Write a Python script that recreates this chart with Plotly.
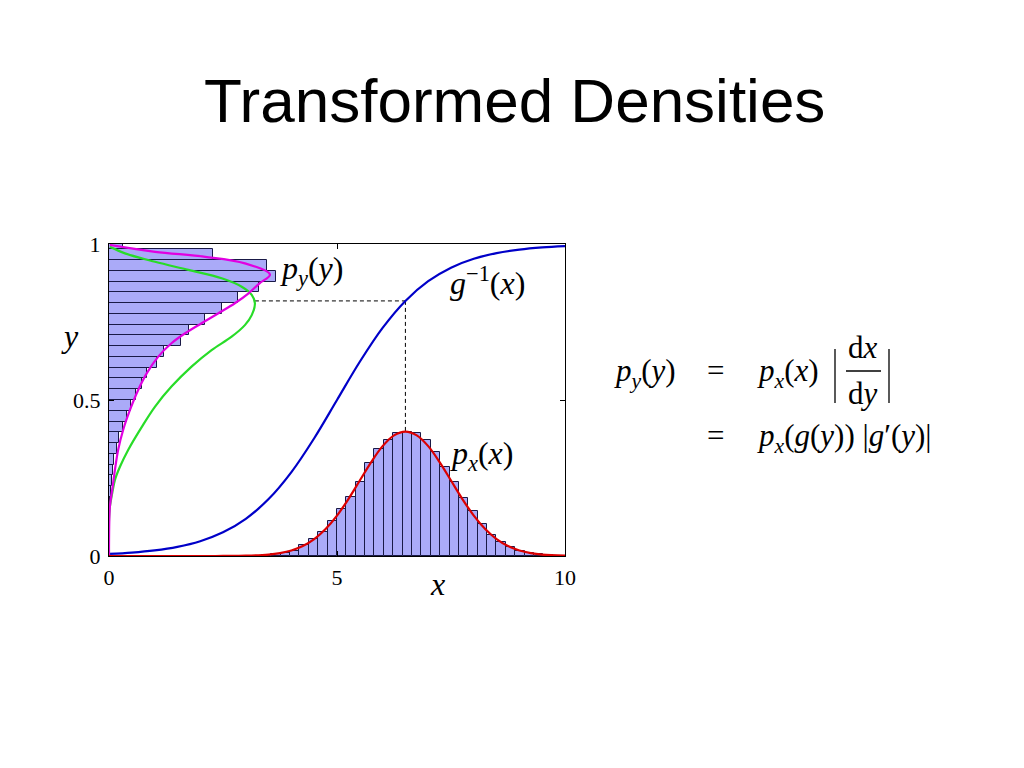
import plotly.graph_objects as go

# ---------------- data ----------------
# histogram of x (vertical bars)
xbin_width = 0.2057
xbin_centers = [3.458, 3.663, 3.869, 4.074, 4.280, 4.486, 4.691, 4.897, 5.103, 5.308,
                5.514, 5.720, 5.925, 6.131, 6.337, 6.542, 6.748, 6.954, 7.159, 7.365,
                7.571, 7.776, 7.982, 8.188, 8.393, 8.599, 8.805, 9.010, 9.216, 9.422, 9.627]
xbin_heights = [0.003, 0.005, 0.009, 0.017, 0.034, 0.053, 0.077, 0.112, 0.150, 0.190,
                0.237, 0.299, 0.344, 0.372, 0.395, 0.397, 0.393, 0.372, 0.334, 0.286,
                0.238, 0.186, 0.144, 0.103, 0.067, 0.046, 0.030, 0.016, 0.011, 0.006, 0.003]

# histogram of y (horizontal bars)
ybin_width = 0.03446
ybin_centers = [0.0348, 0.0692, 0.1037, 0.1382, 0.1726, 0.2071, 0.2416, 0.2760, 0.3105, 0.3450,
                0.3794, 0.4139, 0.4483, 0.4828, 0.5172, 0.5517, 0.5862, 0.6206, 0.6551, 0.6896,
                0.7240, 0.7585, 0.7930, 0.8274, 0.8619, 0.8963, 0.9308, 0.9653, 0.9997]
ybin_lengths = [0.001, 0.004, 0.008, 0.015, 0.025, 0.040, 0.060, 0.090, 0.120, 0.170,
                0.220, 0.310, 0.390, 0.480, 0.590, 0.730, 0.830, 1.050, 1.210, 1.570,
                1.750, 2.110, 2.480, 2.820, 3.290, 3.660, 3.470, 2.270, 0.300]

# p_x(x): red curve
px_x = [0.0, 1.0, 2.0, 2.5, 3.0, 3.5, 3.75, 4.0, 4.25, 4.5, 4.75, 5.0, 5.25, 5.5, 5.75, 6.0, 6.25,
        6.5, 6.75, 7.0, 7.25, 7.5, 7.75, 8.0, 8.25, 8.5, 8.75, 9.0, 9.25, 9.5, 10.0]
px_y = [0.0, 0.0, 0.0, 0.0002, 0.0009, 0.0044, 0.0091, 0.0175, 0.0317, 0.0540, 0.0863, 0.1295,
        0.1826, 0.2420, 0.3011, 0.3521, 0.3867, 0.3989, 0.3867, 0.3521, 0.3011, 0.2420, 0.1826,
        0.1295, 0.0863, 0.0540, 0.0317, 0.0175, 0.0091, 0.0044, 0.0009]

# g^{-1}(x): blue curve
ginv_x = [0.0, 0.5, 1.0, 1.5, 2.0, 2.5, 3.0, 3.5, 4.0, 4.5, 5.0,
          5.5, 6.0, 6.5, 7.0, 7.5, 8.0, 8.5, 9.0, 9.5, 10.0]
ginv_y = [0.0067, 0.0110, 0.0180, 0.0293, 0.0474, 0.0759, 0.1192, 0.1824, 0.2689, 0.3775, 0.5,
          0.6225, 0.7311, 0.8176, 0.8808, 0.9241, 0.9526, 0.9707, 0.9820, 0.9890, 0.9933]

# p_x(g(y)): green curve (plotted sideways)
pxg_y = [0.0, 0.12, 0.158, 0.201, 0.244, 0.286, 0.340, 0.414, 0.479, 0.543, 0.607, 0.660,
         0.703, 0.740, 0.772, 0.810, 0.837, 0.863, 0.890, 0.917, 0.943, 0.970, 0.991]
pxg_x = [0.0, 0.0, 0.02, 0.07, 0.13, 0.24, 0.42, 0.72, 1.01, 1.37, 1.81, 2.25,
         2.69, 2.98, 3.13, 3.20, 3.13, 2.91, 2.47, 1.74, 1.01, 0.35, 0.02]

# p_y(y): magenta curve (plotted sideways)
py_y = [0.0, 0.158, 0.212, 0.276, 0.340, 0.404, 0.468, 0.532, 0.586, 0.639, 0.682, 0.714,
        0.746, 0.778, 0.810, 0.842, 0.874, 0.902, 0.938, 0.959, 0.975, 0.997]
py_x = [0.0, 0.02, 0.07, 0.13, 0.20, 0.31, 0.46, 0.64, 0.83, 1.08, 1.37, 1.67,
        2.03, 2.40, 2.76, 3.06, 3.30, 3.53, 2.98, 2.11, 1.01, 0.02]

# dashed guide lines
guide_h_x = [3.2, 6.5]
guide_h_y = [0.8176, 0.8176]
guide_v_x = [6.5, 6.5]
guide_v_y = [0.8176, 0.3989]

x_tickvals = [0, 5, 10]
x_ticktext = ["0", "5", "10"]
y_tickvals = [0, 0.5, 1]
y_ticktext = ["0", "0.5", "1"]

# ---------------- figure ----------------
OFF = 8                      # page body margin
W, H = 1024 - 2 * OFF, 768 - 2 * OFF
L, R, T, B = 109, 565, 244, 556   # plot box in page pixels
SERIF = "Liberation Serif, DejaVu Serif, serif"

def pxx(p):
    return (p - L) / (R - L)

def pxy(p):
    return (B - p) / (B - T)

hist_fill = "rgb(170,170,248)"
hist_edge = "rgb(25,25,70)"

fig = go.Figure()
fig.add_trace(go.Bar(x=xbin_centers, y=xbin_heights, width=xbin_width,
                     marker=dict(color=hist_fill, line=dict(color=hist_edge, width=1)),
                     hoverinfo="skip"))
fig.add_trace(go.Bar(x=ybin_lengths, y=ybin_centers, width=ybin_width, orientation="h",
                     marker=dict(color=hist_fill, line=dict(color=hist_edge, width=1)),
                     hoverinfo="skip"))
fig.add_trace(go.Scatter(x=guide_h_x, y=guide_h_y, mode="lines",
                         line=dict(color="black", width=1, dash="4px,3px")))
fig.add_trace(go.Scatter(x=guide_v_x, y=guide_v_y, mode="lines",
                         line=dict(color="black", width=1, dash="4px,3px")))
fig.add_trace(go.Scatter(x=ginv_x, y=ginv_y, mode="lines", line_shape="spline",
                         line=dict(color="rgb(0,0,200)", width=2.2)))
fig.add_trace(go.Scatter(x=pxg_x, y=pxg_y, mode="lines", line_shape="spline",
                         line=dict(color="rgb(40,220,40)", width=2.2)))
fig.add_trace(go.Scatter(x=py_x, y=py_y, mode="lines", line_shape="spline",
                         line=dict(color="rgb(225,0,225)", width=2.2)))
fig.add_trace(go.Scatter(x=px_x, y=px_y, mode="lines", line_shape="spline",
                         line=dict(color="rgb(220,0,0)", width=2.2)))

ann = []
def add_text(text, x, y, size, xanchor="center", family=SERIF, yanchor="middle"):
    ann.append(dict(text=text, x=pxx(x), y=pxy(y), xref="paper", yref="paper",
                    showarrow=False, xanchor=xanchor, yanchor=yanchor,
                    font=dict(family=family, size=size, color="black")))

# title
add_text("Transformed Densities", 514, 100, 62, family="Liberation Sans, Arial, sans-serif")
# axis labels
add_text("<i>x</i>", 437, 584, 32)
add_text("<i>y</i>", 70, 336, 32)
# curve labels
LAB = 32
add_text("<i>p</i><sub><i>y</i></sub>(<i>y</i>)", 278, 270, LAB, xanchor="left")
add_text("<i>g</i><sup>−1</sup>(<i>x</i>)", 448, 281, LAB, xanchor="left")
add_text("<i>p</i><sub><i>x</i></sub>(<i>x</i>)", 448, 455, LAB, xanchor="left")
# equation
EQ = 31
add_text("<i>p</i><sub><i>y</i></sub>(<i>y</i>)", 612, 373, EQ, xanchor="left")
add_text("=", 715, 370, EQ)
add_text("<i>p</i><sub><i>x</i></sub>(<i>x</i>)", 755, 373, EQ, xanchor="left")
add_text("d<i>x</i>", 863, 347, EQ)
add_text("d<i>y</i>", 863, 393, EQ)
add_text("=", 715, 435, EQ)
add_text("<i>p</i><sub><i>x</i></sub>(<i>g</i>(<i>y</i>)) |<i>g</i>′(<i>y</i>)|", 755, 438, EQ, xanchor="left")

shapes = [
    dict(type="line", xref="paper", yref="paper", x0=pxx(846), x1=pxx(881), y0=pxy(371), y1=pxy(371),
         line=dict(color="black", width=1.3)),
    dict(type="line", xref="paper", yref="paper", x0=pxx(835), x1=pxx(835), y0=pxy(349), y1=pxy(403),
         line=dict(color="black", width=1.3)),
    dict(type="line", xref="paper", yref="paper", x0=pxx(889), x1=pxx(889), y0=pxy(349), y1=pxy(403),
         line=dict(color="black", width=1.3)),
]

axis_common = dict(showline=True, linecolor="black", linewidth=1, mirror="ticks",
                   ticks="inside", ticklen=5, tickcolor="black", showgrid=False, zeroline=False,
                   tickfont=dict(family=SERIF, size=22, color="black"))

fig.update_layout(
    width=W, height=H,
    margin=dict(l=L - OFF, r=W - (R - OFF), t=T - OFF, b=H - (B - OFF), pad=0),
    paper_bgcolor="white", plot_bgcolor="white",
    showlegend=False, barmode="overlay", bargap=0,
    xaxis=dict(range=[0, 10], tickvals=x_tickvals, ticktext=x_ticktext,
               ticklabelstandoff=2, **axis_common),
    yaxis=dict(range=[0, 1], tickvals=y_tickvals, ticktext=y_ticktext,
               ticklabelstandoff=3, **axis_common),
    annotations=ann, shapes=shapes,
)

fig.write_html("out.html")
